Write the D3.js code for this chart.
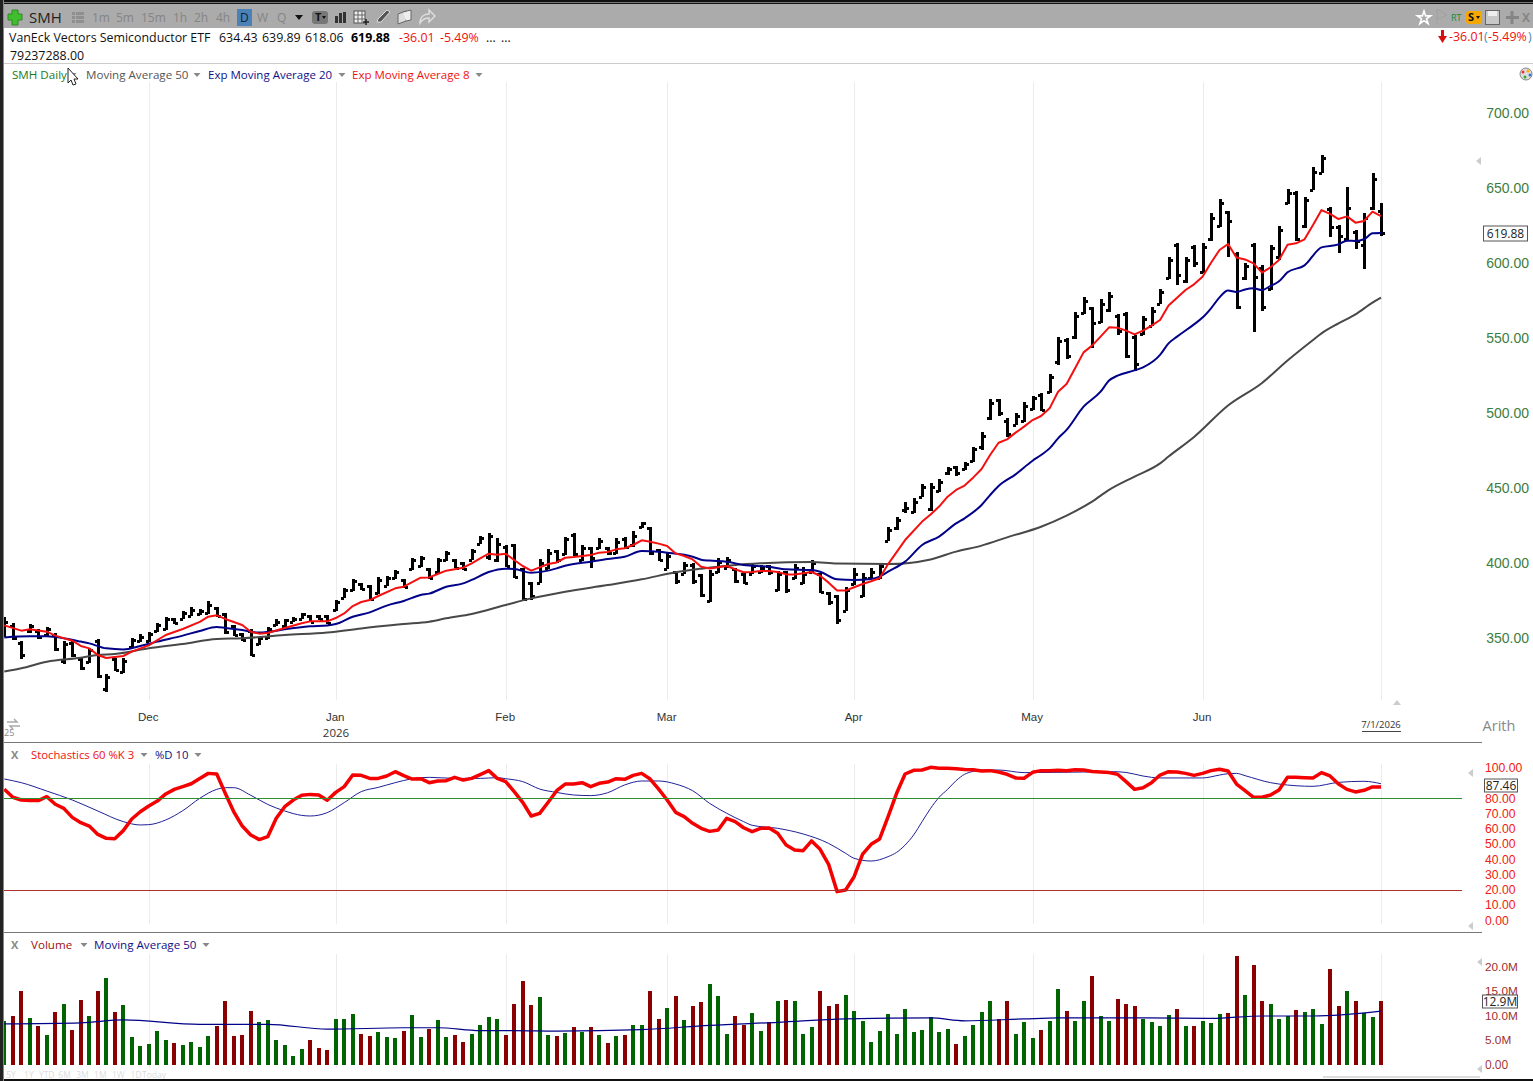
<!DOCTYPE html>
<html>
<head>
<meta charset="utf-8">
<script src="https://cdn.jsdelivr.net/npm/d3@7"></script>
<style>
  html, body { margin: 0; padding: 0; background: #fff; overflow: hidden; }
  svg { display: block; font-family: "Open Sans", "Noto Sans", sans-serif; }
  .domain { display: none; }
</style>
</head>
<body>
<div id="chart"></div>

<script type="text/javascript">
// price bars, one value per trading day
var high = [
  363.8,359.8,348.2,359.3,355.8,357.1,353.1,348.2,348.2,336.5,
  343.1,349.1,326,336.5,336.5,349.8,352.7,354.2,360.2,364.2,
  363.6,368.2,370.4,369.1,374.9,370.9,366.9,358.4,353.6,355.8,
  350.9,357.1,362.4,362.9,364.2,366.9,365.3,365.3,365.3,375.3,
  383.1,389.1,386.9,385.3,390.4,391.3,395.3,389.1,403.1,404.7,
  396.4,403.1,408.2,402.4,400.9,409.1,418,420.2,416.4,412,
  412.4,396.4,387.6,402.4,409.1,408.7,417.5,419.8,412,410.9,
  416.4,410.4,416.4,417.1,421.5,427.6,423.8,409.1,406.4,394.2,
  400.9,400.2,392.7,395.3,403.1,403.8,396.4,394.2,399.3,398.7,
  398.7,394.9,394.9,399.3,397.6,402,393.1,380.9,378.7,383.8,
  396.4,393.1,396.4,399.8,423.8,430.4,440.9,443.1,452.7,453.1,
  456,464.2,464.9,467.6,477.1,487.6,509.1,509.6,496.4,499.8,
  507.6,511.3,513.1,526,550.4,549.8,567.1,577.6,570.4,575.8,
  580.9,566,567.1,552,564.7,570.4,582.4,603.8,613.1,604.2,
  611.8,613.1,633.1,642.4,634.7,607.3,599.8,613.6,598.7,611.8,
  624.7,649.1,648.2,643.8,663.8,671.8,637.1,625.1,650.4,622,
  633.1,659.8,639.89
];
var low = [
  350.4,348.7,336.5,353.6,349.1,350.4,340.9,333.1,337.6,328.7,
  333.1,323.1,314.2,327.6,326.4,343.1,347.6,347.6,354.2,355.3,
  359.3,362.9,364.7,365.3,366,364.2,352.7,351.3,348.2,338,
  345.3,349.1,358,357.1,360.9,362.9,360.9,362,359.3,368.2,
  376.4,380.9,382,375.3,379.3,384.7,389.1,383.1,395.3,397.6,
  389.1,393.1,401.6,396.4,395.8,401.6,412.7,402,400.2,397.6,
  389.8,374.2,375.8,386.4,395.8,400.2,405.3,404.7,401.6,397.1,
  409.1,405.3,406,409.1,410.9,423.8,405.3,400.9,395.8,386,
  392.7,386.4,377.5,373.8,393.1,396.4,386.4,386,392.7,393.1,
  392,381.3,380.2,389.1,386.4,393.5,379.8,372,359.1,367.5,
  385.3,377.1,389.8,389.1,414.2,422,433.8,433.1,443.8,434.2,
  447.1,459.1,458.2,462,466.9,475.3,495.3,498,483.8,491.6,
  494.2,502,500.9,513.6,532,535.8,549.1,566.4,543.1,559.8,
  567.6,552,536.4,528.2,552,557.6,572.7,589.1,584.9,586.9,
  597.1,593.1,614.2,623.8,604.2,569.1,588.2,554.2,568.2,581.6,
  602,639.3,614.9,623.1,648.2,659.8,616.9,606.4,614.9,609.1,
  595.8,635.3,618.06
];
var open = [
  353,358,347,355,355,352,352,335,347,336,
  334,348,316,336,327,344,348,348,355,356,
  363,363,365,366,367,370,366,358,353,355,
  346,350,359,358,361,363,365,365,365,369,
  377,382,386,385,380,385,390,389,396,398,
  396,394,402,402,400,402,413,404,402,411,
  412,396,387,387,397,408,406,419,402,410,
  410,410,407,416,412,424,423,409,396,394,
  393,399,392,375,394,397,396,393,393,394,
  398,382,394,390,387,394,393,380,378,368,
  386,378,390,390,415,423,435,434,444,436,
  448,460,464,463,468,477,497,509,495,492,
  495,503,512,514,534,549,551,567,570,561,
  569,565,566,551,553,558,573,590,612,588,
  611,594,616,625,634,606,590,612,597,583,
  604,640,647,625,649,660,636,624,616,621,
  612,637,634.43
];
var close = [
  361,350,339,358,351,356,343,346,339,330,
  342,325,324,329,335,349,351,353,359,363,
  360,367,369,368,372,365,354,352,349,339,
  350,356,361,362,363,366,361,363,360,374,
  382,388,383,376,389,390,394,384,402,403,
  390,402,407,397,396,408,417,418,413,398,
  391,376,378,400,407,402,416,406,410,403,
  415,407,414,411,418,427,407,402,405,388,
  399,388,379,393,401,402,388,387,398,397,
  394,393,382,397,393,400,381,374,362,382,
  393,390,394,398,422,429,437,441,451,451,
  454,463,460,466,476,485,507,500,486,498,
  505,510,502,524,548,538,565,575,560,573,
  578,555,538,533,563,568,581,602,592,602,
  600,611,630,640,628,571,598,591,571,610,
  622,647,616,642,661,670,624,618,637,615,
  630,656,619.88
];

// moving averages on the price panel
var ema8Idx = [0,2,3,5,6,8,9,10,11,12,14,15,17,19,21,23,24,25,26,28,29,30,31,33,35,36,38,39,40,41,42,43,44,46,47,49,50,51,52,
  54,55,56,57,58,59,60,61,62,63,64,65,66,67,68,69,70,71,72,73,74,75,76,77,78,79,80,81,82,83,84,85,86,87,88,89,90,91,92,93,94,95,96,97,98,99,100,101,102,103,104,
  106,108,109,110,111,112,113,114,115,116,117,118,119,120,121,122,123,124,125,126,127,128,129,130,131,132,133,134,135,136,137,138,139,140,141,142,143,144,145,146,147,148,149,150,151,152,153,154,155,156,157,158,159,160,161,162];
var ema8Val = [358.4,354.9,355.8,354.2,351.6,348.2,344.7,343.1,338.7,336.7,338,340.9,345.1,352,356,360.7,364.2,365.1,362.7,358.7,354.2,352.9,353.3,356.7,359.8,361.1,361.1,363.3,366.4,371.3,374,375.3,378,383.1,384.2,390.2,390.4,392.7,394.9,
  396.9,399.8,403.1,406.2,405.5,406.2,402,398,394.9,397.1,399.3,400.4,403.5,404,404.7,405.3,406.9,407.3,409.1,409.8,412,415.1,414.2,412.9,411.3,406.4,404.7,402.4,397.5,396.4,397.1,398,395.8,393.8,394,394.6,394.6,394,392.4,392.4,393.1,394,391.5,386.9,381.6,381.6,383.8,386,387.8,389.8,399.3,
  415.3,427.6,432.4,437.6,444.2,448.7,451.6,456.9,462.7,472,480.2,482.4,486.9,490.9,495.3,498,503.1,514.2,519.3,529.8,540.4,544.9,550.9,557.1,556.9,554.9,552.4,554.9,558.2,562,571.6,576.9,582,585.8,590.9,600.2,608.7,612.7,603.6,602.4,599.8,593.6,597.1,602,612.2,613.1,615.8,625.3,635.3,632.7,629.3,631.1,626.9,628,634.2,631.3];

var ema20Idx = [0,3,5,7,9,10,12,14,16,18,21,23,25,26,28,30,31,33,36,38,39,41,43,45,47,49,50,52,54,55,57,59,60,62,65,66,69,71,73,75,77,78,81,82,83,85,87,90,92,95,96,98,100,102,103,104,106,108,110,112,113,115,116,117,119,121,122,123,124,125,127,129,130,131,133,134,136,137,138,140,141,142,143,144,145,146,147,148,149,150,151,153,155,157,158,159,160,161,162];
var ema20Val = [350.4,351.1,351.1,349.8,347.6,346.4,343.1,342.4,344.7,347.6,351.6,354.7,357.3,356.7,355.3,353.6,354,355.8,357.8,358.4,359.3,364.2,367.1,371.6,374.7,378.7,379.6,384.2,386.4,388.7,394,396.2,396,393.5,396.4,398.2,400.9,402.7,404.2,408,407.5,406.9,404.2,402.2,401.6,400.9,398.7,397.5,395.8,395.3,394.2,389.1,388.6,389.3,390.9,394.2,400.9,412,417.6,426.4,429.8,438.7,445.3,451.3,459.1,468.2,472,476.4,483.1,488.7,504.2,514.2,521.6,524.9,528.4,530.4,538.7,546.4,550.9,559.1,563.6,569.8,577.1,581.6,580.7,582.4,583.1,582,584.7,587.8,593.8,598.4,610.4,612.4,614.9,614.7,615.8,619.8,620];

var ma50Idx = [0,2,5,9,11,13,17,21,25,28,33,38,42,47,50,52,55,59,62,66,71,75,79,82,86,89,95,98,104,109,112,115,118,122,125,128,130,133,136,137,140,144,148,151,154,155,157,159,161,162];
var ma50Val = [327.6,329.8,334.2,336.9,338.7,339.3,343.1,346,349.3,349.8,352,353.6,356.4,359.3,360.9,363.1,366,372,376.4,380.9,385.3,389.1,393.8,396.2,398.7,399.8,400.7,399.6,399.3,402.4,407.6,411.6,417.1,424.2,431.6,440.9,448.7,457.6,466.4,471,484,505,520,535,548.7,553.1,559.8,565.8,573.6,576.9];

// stochastics panel
var stochK = [
  86,80.7,78.9,78.5,78.5,81.1,76.1,73.4,67.5,64,
  61.8,56.3,53.7,53.5,58.8,66.4,71.2,75,78.2,82.9,
  85.9,87.7,89.6,93.1,96.4,96,83.3,71.2,61.8,55.9,
  52.9,54.8,66.9,74.5,78.9,82,82.6,82.2,78.7,83.9,
  87.7,95.3,95.1,93.1,93.1,94.7,97.5,94.9,92.7,92.9,
  90.3,91.4,91.6,93.8,92,93.1,95.6,98.2,93.1,91,
  84.4,77.4,68.4,70.1,77.4,85,89.4,89.4,90.3,87.7,
  89.9,90.7,92.9,92.5,95.1,96.4,92.7,86.1,78.9,70.8,
  68,63.6,60.3,58.3,59.2,66.9,64.7,60.7,58.1,60.3,
  60.5,57,49.3,46.1,45.6,52,46.5,36.6,18.7,19.8,
  28.5,43.4,49.8,53.3,68,83.3,96,98.4,98.6,100.4,
  99.7,99.7,99.5,99,98.8,98,98.2,97.3,95.8,93.4,
  93.2,97.1,98.2,98.2,98.4,98.2,98.8,98.6,97.7,97.3,
  96.9,95.8,91,85.9,87,90.3,95.3,97.5,97.3,96.4,
  95.1,96.4,98.2,99.1,98,89.4,85,80.7,80.7,82.2,
  85.5,93.8,93.8,93.6,93.4,96.9,94.7,89.4,85.9,84.2,
  85.3,87.5,87.46
];
var stochDIdx = [0,2,5,8,11,14,16,17,19,21,23,25,26,27,29,31,33,35,36,38,40,42,44,46,48,50,53,56,58,59,61,63,65,67,69,71,73,75,77,79,81,83,85,87,88,91,94,97,99,100,102,104,105,106,107,108,109,110,111,112,113,114,115,117,120,127,131,135,136,141,143,144,145,146,149,150,154,157,160,162];
var stochDVal = [92.7,90.3,84.8,78.9,71.7,64.7,62.5,62.7,65.8,71.9,80,85.9,87,87,82,76,71.7,68.8,68.4,70.6,77.2,84.4,87.2,90.3,92.9,93.8,93.1,93.1,93.6,92.9,91,86.1,83.9,82.2,81.8,83.7,88.8,91.4,91.4,89.4,85,76.7,70.2,64.7,62.3,60.3,56.6,50.4,43.9,40.6,38.8,41.7,44.5,49.3,55.9,64.7,73.4,80.7,85.9,91.6,95.8,97.7,98.6,98.6,96.9,97.3,97.5,93.8,93.4,93.4,95.3,96.2,96.4,94.9,90.3,89.4,87.9,90.5,91.2,89.6];
var stochTicks = [100,80,70,60,50,40,30,20,10,0];

// volume panel, in millions
var volume = [
  8.8,9.8,14.9,9.4,7.8,6.1,10.8,12.4,7.1,13.1,
  10,14.9,17.6,10.8,12.2,5.7,3.7,4.1,6.9,4.9,
  4.3,3.9,4.5,3.5,5.9,7.8,12.9,5.9,6.1,11,
  8.6,9,5.1,3.9,1.8,3.1,5.1,3.3,2.9,9.2,
  9.2,10.4,6.3,5.9,6.7,5.7,5.5,6.9,10.2,5.7,
  7.3,9,5.7,6.1,4.5,6.3,8,9.6,9.2,6.1,
  12.4,17.1,12.2,13.7,6.1,5.9,6.5,7.6,6.7,7.6,
  6.1,4.3,5.9,6.1,8,8,15.1,9.2,11.6,13.9,
  9,12,12.7,16.5,13.9,6.3,10,8,10.6,6.9,
  8.6,12.9,13.1,12.9,6.3,7.6,14.9,12,12.4,14.1,
  11,8.8,4.5,6.9,10.4,6.3,11.4,6.7,7.1,9.6,
  6.7,7.3,4.1,5.9,8,10.8,12.9,9.2,12.9,6.3,
  8.6,5.5,7.1,8.8,15.5,11,8.8,12.9,18,9.8,
  8.8,13.3,12.4,12,9.2,8.6,7.8,10.2,11.4,7.8,
  7.8,8.8,8.4,10.4,10.6,22.2,14.1,20.4,12.9,12.4,
  9.2,9.8,11.2,10.8,11.4,8.2,19.4,12,15.1,12.9,
  10.6,9.6,12.9
];
var volMaIdx = [0,9,14,23,31,38,47,51,56,60,65,75,83,91,99,109,113,120,124,134,142,148,154,162];
var volMaVal = [8.3,8.5,9.1,8.2,8.2,7.2,7.5,7.5,6.9,6.9,6.8,7.1,8,8.6,9.3,9.5,8.9,9.3,9.5,9.5,9.4,9.9,9.9,10.9];
var volTicks = [20,15,10,5];

// axis labels
var priceTicks = [700,650,600,550,500,450,400,350];
var monthIdx = [17,39,59,78,100,121,141];
var monthNames = ["Dec","Jan","Feb","Mar","Apr","May","Jun"];
var gridIdx = [17,39,59,78,100,121,141,162];
var rangeLabels = ["5Y","1Y","YTD","6M","3M","1M","1W","1D","Today"];

var svg = d3.select("#chart").append("svg").attr("width", 1533).attr("height", 1081);

var x = d3.scaleLinear().domain([0, 162]).range([4.3, 1381]);
var yPrice = d3.scaleLinear().domain([350, 700]).range([638, 113]);
var yStoch = d3.scaleLinear().domain([0, 100]).range([920.1, 767.9]);
var yVol = d3.scaleLinear().domain([0, 20]).range([1064.5, 966.5]);

svg.append("clipPath").attr("id", "plot").append("rect").attr("x", 4).attr("y", 0).attr("width", 1470).attr("height", 1081);

function label(txt, px, py, color, size, opts) {
  opts = opts || {};
  return svg.append("text").attr("x", px).attr("y", py).attr("dy", ".35em")
    .attr("fill", color).style("font-size", size + "px")
    .style("font-weight", opts.weight || "normal")
    .attr("text-anchor", opts.anchor || "start").text(txt);
}
function arrowDown(px, py, color) {
  svg.append("path").attr("d", "M" + (px - 3.5) + "," + py + "h7l-3.5,4z").attr("fill", color || "#888");
}
function tag(txt, x0, x1, cy, h) {
  svg.append("rect").attr("x", x0 + 0.5).attr("y", cy - h / 2 + 0.5).attr("width", x1 - x0).attr("height", h)
    .attr("fill", "#fff").attr("stroke", "#555");
  label(txt, (x0 + x1) / 2 + 0.5, cy + 0.5, "#222", 12, {anchor: "middle"});
}

// window frame and toolbar
svg.append("rect").attr("x", 0).attr("y", 0).attr("width", 1533).attr("height", 4).attr("fill", "#111");
svg.append("rect").attr("x", 0).attr("y", 2).attr("width", 1533).attr("height", 1).attr("fill", "#777");
svg.append("rect").attr("x", 3).attr("y", 4).attr("width", 1530).attr("height", 24).attr("fill", "#ababab");
svg.append("rect").attr("x", 4).attr("y", 63).attr("width", 1529).attr("height", 1).attr("fill", "#ccc");

svg.append("path").attr("d", "M12,10h6v4h4v6h-4v5h-6v-5h-4v-6h4z").attr("fill", "#3fbf2e").attr("stroke", "#2c8a20");
label("SMH", 29, 17.5, "#222", 15);
[[72,12],[72,16],[72,20]].forEach(function (d) {
  svg.append("rect").attr("x", d[0]).attr("y", d[1]).attr("width", 3).attr("height", 3).attr("fill", "#8f8f8f");
  svg.append("rect").attr("x", d[0] + 4).attr("y", d[1]).attr("width", 8).attr("height", 3).attr("fill", "#8f8f8f");
});
[["1m",92],["5m",116],["15m",141],["1h",173],["2h",194],["4h",216]].forEach(function (d) {
  label(d[0], d[1], 18, "#858585", 12);
});
svg.append("rect").attr("x", 237).attr("y", 9).attr("width", 15).attr("height", 17).attr("fill", "#4a82b8");
label("D", 240, 18, "#123", 12);
label("W", 257, 18, "#858585", 12);
label("Q", 277, 18, "#858585", 12);
svg.append("path").attr("d", "M295,15h8l-4,5z").attr("fill", "#111");
svg.append("rect").attr("x", 312).attr("y", 11).attr("width", 16).attr("height", 13).attr("rx", 3).attr("fill", "#777");
label("T", 315, 17.5, "#111", 11, {weight: "bold"});
svg.append("path").attr("d", "M322,16h4l-2,3z").attr("fill", "#111");
[[335,16,7],[339,13,10],[343,12,11]].forEach(function (d) {
  svg.append("rect").attr("x", d[0]).attr("y", d[1]).attr("width", 3).attr("height", d[2]).attr("fill", "#333");
});
svg.append("rect").attr("x", 354).attr("y", 11).attr("width", 11).attr("height", 12).attr("fill", "#eee").attr("stroke", "#555");
svg.append("path").attr("d", "M354,15h11M354,19h11M358,11v12M362,11v12").attr("stroke", "#666").attr("fill", "none");
svg.append("path").attr("d", "M366,19v6M363,22h6").attr("stroke", "#222").attr("stroke-width", 1.5);
svg.append("path").attr("d", "M377,22l1,-3l9,-9l3,2l-9,10z").attr("fill", "#555").attr("stroke", "#ddd");
svg.append("path").attr("d", "M398,14l8,-3v10l-8,3z").attr("fill", "#ddd").attr("stroke", "#666");
svg.append("path").attr("d", "M403,12l8,-2v10l-5,1").attr("fill", "#eee").attr("stroke", "#666");
svg.append("path").attr("d", "M420,23c0,-6 4,-9 9,-9v-4l6,6l-6,6v-4c-4,0 -7,2 -9,5z").attr("fill", "none").attr("stroke", "#ddd").attr("stroke-width", 1.5);

svg.append("path").attr("d", d3.symbol(d3.symbolStar, 55)()).attr("transform", "translate(1424,18)").attr("fill", "none").attr("stroke", "#fff").attr("stroke-width", 1.6);
svg.append("path").attr("d", "M1437,24v-15l10,6l-9,4").attr("fill", "none").attr("stroke", "#a0a0a0");
label("RT", 1451, 17.5, "#1a8a3a", 9);
svg.append("rect").attr("x", 1466).attr("y", 11).attr("width", 16).attr("height", 13).attr("rx", 3).attr("fill", "#f5a800");
label("S", 1468, 17.5, "#111", 11, {weight: "bold"});
svg.append("path").attr("d", "M1476,16h4l-2,3z").attr("fill", "#111");
svg.append("rect").attr("x", 1485.5).attr("y", 10.5).attr("width", 14).attr("height", 14).attr("fill", "#c8c8c8").attr("stroke", "#666");
svg.append("rect").attr("x", 1488).attr("y", 11).attr("width", 9).attr("height", 5).attr("fill", "#eee");
svg.append("path").attr("d", "M1512,11v13M1506,17.5h13").attr("stroke", "#858585").attr("stroke-width", 3);
label("X", 1522, 18, "#858585", 12, {weight: "bold"});

// quote rows
var quote = [["634.43",219],["639.89",262],["618.06",305]];
label("VanEck Vectors Semiconductor ETF", 9, 37.5, "#111", 12.4);
quote.forEach(function (d) { label(d[0], d[1], 37.5, "#111", 12.4); });
label("619.88", 351, 37.5, "#000", 12.4, {weight: "bold"});
label("-36.01", 399, 37.5, "#f01010", 12.4);
label("-5.49%", 440, 37.5, "#f01010", 12.4);
label("...", 486, 37.5, "#111", 12.4);
label("...", 501, 37.5, "#111", 12.4);
label("79237288.00", 10, 55.5, "#111", 12.4);
svg.append("path").attr("d", "M1441,30h3v6h3l-4.5,7l-4.5,-7h3z").attr("fill", "#d81010");
label("-36.01", 1449, 37, "#f01010", 12.4);
label("(", 1484, 37, "#4a8aaa", 12.4);
label("-5.49%", 1488, 37, "#f01010", 12.4);
label(")", 1528, 37, "#4a8aaa", 12.4);

// indicator legend rows
label("SMH Daily", 12, 75, "#1a7a1a", 11.6);
arrowDown(73, 73);
label("Moving Average 50", 86, 75, "#555", 11.6);
arrowDown(197, 73);
label("Exp Moving Average 20", 208, 75, "#10108a", 11.5);
arrowDown(342, 73);
label("Exp Moving Average 8", 352, 75, "#f01010", 11.5);
arrowDown(479, 73);
svg.append("path").attr("d", "M68,68v15l3,-3l2,5l3,-1l-2,-5h4z").attr("fill", "#fff").attr("stroke", "#222");
svg.append("circle").attr("cx", 1526).attr("cy", 74).attr("r", 6).attr("fill", "#ddd").attr("stroke", "#888");
[[1523,72,"#e33"],[1528,71,"#fa0"],[1530,75,"#37c"],[1525,77,"#3a3"]].forEach(function (d) {
  svg.append("circle").attr("cx", d[0]).attr("cy", d[1]).attr("r", 1.5).attr("fill", d[2]);
});

label("X", 11, 755, "#888", 11, {weight: "bold"});
label("Stochastics 60 %K 3", 31, 755, "#f01010", 11.3);
arrowDown(144, 753);
label("%D 10", 155, 755, "#10108a", 11.3);
arrowDown(198, 753);

label("X", 11, 945, "#888", 11, {weight: "bold"});
label("Volume", 31, 945, "#a01010", 11.6);
arrowDown(84, 943);
label("Moving Average 50", 94, 945, "#10108a", 11.6);
arrowDown(206, 943);

// panel separators and month gridlines
[[742,"#777"],[932,"#777"]].forEach(function (d) {
  svg.append("rect").attr("x", 4).attr("y", d[0]).attr("width", 1478).attr("height", 1).attr("fill", d[1]);
});
[[82,700],[764,924],[954,1068]].forEach(function (d) {
  svg.append("g").selectAll("line").data(gridIdx).enter().append("line")
    .attr("x1", function (i) { return Math.round(x(i)) + 0.5; })
    .attr("x2", function (i) { return Math.round(x(i)) + 0.5; })
    .attr("y1", d[0]).attr("y2", d[1])
    .attr("stroke", "#ececec");
});

// price panel
var plot = svg.append("g").attr("clip-path", "url(#plot)");
var bars = plot.append("g").attr("fill", "#000").attr("shape-rendering", "crispEdges");
high.forEach(function (h, i) {
  var cx = Math.round(x(i));
  bars.append("rect").attr("x", cx - 1).attr("width", 3)
    .attr("y", Math.round(yPrice(h))).attr("height", Math.round(yPrice(low[i]) - yPrice(h)));
  bars.append("rect").attr("x", cx - 3).attr("width", 3).attr("height", 3)
    .attr("y", Math.round(yPrice(open[i])) - 1);
  bars.append("rect").attr("x", cx + 1).attr("width", 3).attr("height", 3)
    .attr("y", Math.round(yPrice(close[i])) - 1);
});

function drawLine(idx, vals, scale, color, width, curve) {
  var line = d3.line().x(function (d) { return x(d); })
    .y(function (d, i) { return scale(vals[i]); })
    .curve(curve || d3.curveLinear);
  plot.append("path").attr("d", line(idx)).attr("fill", "none")
    .attr("stroke", color).attr("stroke-width", width).attr("stroke-linejoin", "round");
}
drawLine(ma50Idx, ma50Val, yPrice, "#484848", 2, d3.curveMonotoneX);
drawLine(ema20Idx, ema20Val, yPrice, "#000088", 2, d3.curveMonotoneX);
drawLine(ema8Idx, ema8Val, yPrice, "#f41010", 2);

var priceAxis = d3.axisRight(yPrice).tickValues(priceTicks)
  .tickFormat(function (d) { return d.toFixed(2); }).tickSize(0).tickPadding(0);
var gp = svg.append("g").attr("transform", "translate(1529,0)").call(priceAxis);
gp.selectAll("text").attr("text-anchor", "end").attr("fill", "#3e7d3e").style("font-size", "14px");
tag("619.88", 1483, 1527, 233, 15);

var dateAxis = d3.axisBottom(x).tickValues(monthIdx)
  .tickFormat(function (d, i) { return monthNames[i]; }).tickSize(0).tickPadding(0);
var gd = svg.append("g").attr("transform", "translate(-1,713)").call(dateAxis);
gd.selectAll("text").attr("fill", "#333").style("font-size", "11.5px");
label("2026", 336, 733, "#333", 11.5, {anchor: "middle"});
label("7/1/2026", 1381, 725, "#333", 9.5, {anchor: "middle"});
svg.append("rect").attr("x", 1362).attr("y", 731).attr("width", 39).attr("height", 1).attr("fill", "#444");
label("Arith", 1499, 726, "#888", 14.5, {anchor: "middle"});
label("25", 4, 733, "#888", 9);
svg.append("path").attr("d", "M7,722h10l-3,-3M20,726h-10l3,3").attr("fill", "none").attr("stroke", "#aaa").attr("stroke-width", 1.5);

svg.append("path").attr("d", "M1476,161l5,-4v8z").attr("fill", "#ccc");
svg.append("path").attr("d", "M1393,705l4,-5l4,5z").attr("fill", "#ccc");

// stochastics
svg.append("rect").attr("x", 4).attr("y", Math.round(yStoch(80))).attr("width", 1458).attr("height", 1).attr("fill", "#2f8f2f");
svg.append("rect").attr("x", 4).attr("y", Math.round(yStoch(20))).attr("width", 1458).attr("height", 1).attr("fill", "#b03030");
drawLine(stochDIdx, stochDVal, yStoch, "#202098", 1, d3.curveMonotoneX);
var kIdx = stochK.map(function (d, i) { return i; });
drawLine(kIdx, stochK, yStoch, "#f40000", 3.5);

var stochAxis = d3.axisRight(yStoch).tickValues(stochTicks)
  .tickFormat(function (d) { return d.toFixed(2); }).tickSize(0).tickPadding(0);
var gs = svg.append("g").attr("transform", "translate(1485,0)").call(stochAxis);
gs.selectAll("text").attr("fill", "#f02010").style("font-size", "12.2px");
tag("87.46", 1484, 1517, 785, 13);
svg.append("path").attr("d", "M1468,773l5,-4v8z").attr("fill", "#ccc");
svg.append("path").attr("d", "M1468,926l5,-4v8z").attr("fill", "#ccc");

// volume
var vols = plot.append("g").attr("shape-rendering", "crispEdges");
vols.selectAll("rect").data(volume).enter().append("rect")
  .attr("x", function (d, i) { return Math.round(x(i)) - 2; })
  .attr("width", 4)
  .attr("y", function (d) { return Math.round(yVol(d)); })
  .attr("height", function (d) { return Math.round(yVol(0)) - Math.round(yVol(d)); })
  .attr("fill", function (d, i) { return close[i] >= open[i] ? "#006400" : "#8b0000"; });
drawLine(volMaIdx, volMaVal, yVol, "#000088", 1.2, d3.curveMonotoneX);

var volAxis = d3.axisRight(yVol).tickValues(volTicks)
  .tickFormat(function (d) { return d.toFixed(1) + "M"; }).tickSize(0).tickPadding(0);
var gv = svg.append("g").attr("transform", "translate(1485,0)").call(volAxis);
gv.selectAll("text").attr("fill", "#a03030").style("font-size", "11.8px");
label("0.00", 1485, 1065, "#a03030", 11.8);
tag("12.9M", 1482, 1517, 1001, 13);
svg.append("path").attr("d", "M1477,962l5,-4v8z").attr("fill", "#ccc");
svg.append("path").attr("d", "M1477,1069l5,-4v8z").attr("fill", "#ccc");

// bottom strip
var rangeX = d3.scalePoint().domain(rangeLabels).range([11, 154]);
svg.append("g").selectAll("text").data(rangeLabels).enter().append("text")
  .attr("x", function (d) { return rangeX(d); }).attr("y", 1078)
  .attr("text-anchor", "middle").attr("fill", "#dcdcdc").style("font-size", "8.5px")
  .text(function (d) { return d; });
svg.append("rect").attr("x", 1323).attr("y", 1076).attr("width", 157).attr("height", 2).attr("fill", "#ddd");
svg.append("rect").attr("x", 0).attr("y", 1079).attr("width", 1533).attr("height", 2).attr("fill", "#111");
svg.append("rect").attr("x", 0).attr("y", 0).attr("width", 3).attr("height", 1081).attr("fill", "#222");
svg.append("rect").attr("x", 3).attr("y", 0).attr("width", 1).attr("height", 1081).attr("fill", "#888");
</script>
</body>
</html>
